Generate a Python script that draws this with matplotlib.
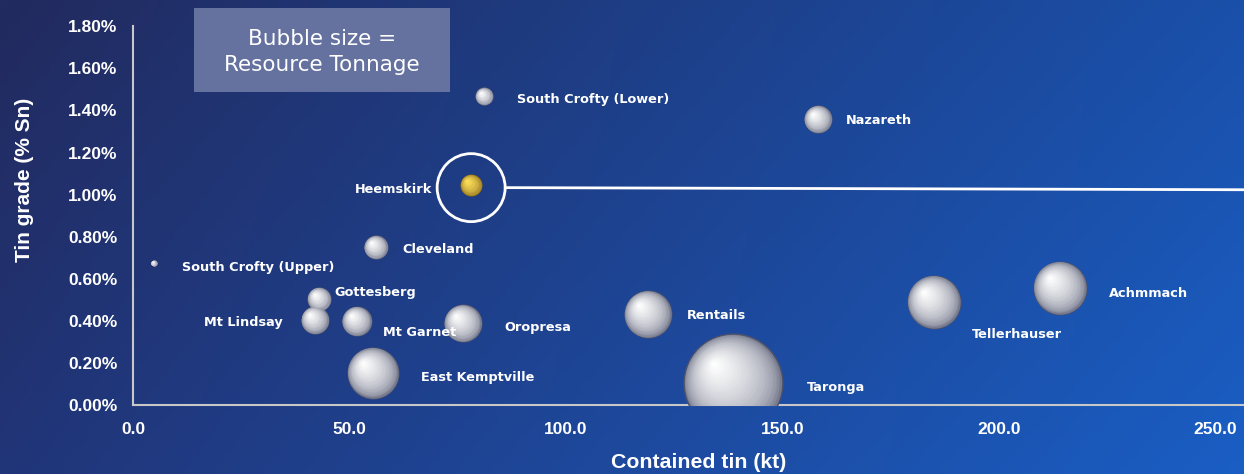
import matplotlib
matplotlib.use("Agg")
import matplotlib.pyplot as plt
import matplotlib.transforms as mtransforms
from matplotlib.patches import Rectangle
import numpy as np

# Resource data
deposits = ['South Crofty (Upper)', 'South Crofty (Lower)', 'Nazareth', 'Heemskirk',
            'Cleveland', 'Gottesberg', 'Mt Lindsay', 'Mt Garnet', 'Oropresa',
            'East Kemptville', 'Rentails', 'Taronga', 'Tellerhauser', 'Achmmach']
contained_tin = [4.8, 81.1, 158.2, 78.1, 56.1, 43.0, 42.0, 51.7, 76.2, 55.4, 118.9, 138.6, 185.0, 214.1]
grade = [0.674, 1.467, 1.358, 1.045, 0.750, 0.503, 0.404, 0.399, 0.389, 0.152, 0.432, 0.104, 0.489, 0.556]
tonnage = [0.3, 2.5, 6.0, 3.7, 4.4, 4.4, 6.0, 6.8, 11.0, 20.5, 17.5, 76.0, 22.0, 22.0]

# label offsets in points (dx, dy, ha)
label_pos = {
    'South Crofty (Upper)': (20, -3, 'left'),
    'South Crofty (Lower)': (24, -2, 'left'),
    'Nazareth': (20, -1, 'left'),
    'Heemskirk': (-28, -3, 'right'),
    'Cleveland': (19, -2, 'left'),
    'Gottesberg': (11, 5, 'left'),
    'Mt Lindsay': (-23, -2, 'right'),
    'Mt Garnet': (19, -8, 'left'),
    'Oropresa': (30, -3, 'left'),
    'East Kemptville': (35, -3, 'left'),
    'Rentails': (28, -1, 'left'),
    'Taronga': (53, -3, 'left'),
    'Tellerhauser': (27, -23, 'left'),
    'Achmmach': (35, -4, 'left'),
}

plt.rcParams['font.family'] = ['Liberation Sans', 'DejaVu Sans']

fig = plt.figure(figsize=(12.44, 4.74), dpi=100)

# background gradient
bg = fig.add_axes([0, 0, 1, 1], zorder=-10)
gx = np.linspace(0, 1, 300)
gy = np.linspace(0, 1, 120)
X, Y = np.meshgrid(gx, gy)
tl = np.array([0x22, 0x2a, 0x5e]) / 255
tr = np.array([0x1a, 0x50, 0xaa]) / 255
bl = np.array([0x21, 0x35, 0x78]) / 255
br = np.array([0x1a, 0x5e, 0xc4]) / 255
img = ((1 - X)[..., None] * (1 - Y)[..., None] * tl + X[..., None] * (1 - Y)[..., None] * tr
       + (1 - X)[..., None] * Y[..., None] * bl + X[..., None] * Y[..., None] * br)
bg.imshow(img, aspect='auto', extent=[0, 1, 1, 0])
bg.axis('off')

ax = fig.add_axes([0.1069, 0.1456, 0.8931, 0.799])
ax.set_facecolor('none')
ax.set_xlim(0, 256.6)
ax.set_ylim(0, 1.8)

pt_per_px = 72 / fig.dpi


def sphere(x, y, size, dark, light, z):
    # fake 3D ball: stacked circles shifting toward upper-left highlight
    r_pt = np.sqrt(size) / 2
    n = 36
    for i in range(n):
        f = 1 - i / n
        t = (i / (n - 1)) ** 0.4
        col = dark * (1 - t) + light * t
        shift = (1 - f) * r_pt * 0.4
        tr_ = ax.transData + mtransforms.ScaledTranslation(-shift / 72, shift / 72,
                                                           fig.dpi_scale_trans)
        ax.scatter([x], [y], s=size * f ** 2, color=col, transform=tr_,
                   linewidths=0, zorder=z + i * 0.001)


silver_dark = np.array([0.30, 0.32, 0.42])
silver_light = np.array([1.0, 1.0, 1.0])
gold_dark = np.array([0.45, 0.33, 0.08])
gold_light = np.array([1.0, 0.88, 0.35])

for name, xv, yv, t in zip(deposits, contained_tin, grade, tonnage):
    s = 68.4 * t
    if name == 'Heemskirk':
        sphere(xv, yv, s, gold_dark, gold_light, 3)
    else:
        sphere(xv, yv, s, silver_dark, silver_light, 3)
    dx, dy, ha = label_pos[name]
    ax.annotate(name, (xv, yv), xytext=(dx, dy), textcoords='offset points',
                ha=ha, va='center', color='white', fontsize=9.3, fontweight='bold',
                family='DejaVu Sans', zorder=10)

# highlight ring around Heemskirk and leader line
hx = contained_tin[deposits.index('Heemskirk')]
ring_y = 1.033
ring_d = 68 * pt_per_px
ax.scatter([hx], [ring_y], s=ring_d ** 2, facecolors='none', edgecolors='white',
           linewidths=2, zorder=6)
ax.plot([hx + 7.9, 256.6], [ring_y, ring_y - 0.01], color='white', lw=2, zorder=6,
        clip_on=False)

ax.set_xticks([0, 50, 100, 150, 200, 250])
ax.set_xticklabels(['0.0', '50.0', '100.0', '150.0', '200.0', '250.0'])
yticks = np.arange(0, 1.81, 0.2)
ax.set_yticks(yticks)
ax.set_yticklabels([f'{v:.2f}%' for v in yticks])
ax.tick_params(length=0, colors='white', labelsize=12.5)
ax.tick_params(axis='x', pad=12)
ax.tick_params(axis='y', pad=11)
for lab in ax.get_xticklabels() + ax.get_yticklabels():
    lab.set_fontweight('bold')

for side in ['top', 'right']:
    ax.spines[side].set_visible(False)
for side in ['left', 'bottom']:
    ax.spines[side].set_color('#c8c8c8')
    ax.spines[side].set_linewidth(1.5)

fig.text(699 / 1244, 1 - 462 / 474, 'Contained tin (kt)', color='white', fontsize=15.3,
         fontweight='bold', ha='center', va='center')
fig.text(25 / 1244, 1 - 180 / 474, 'Tin grade (% Sn)', color='white', fontsize=15,
         fontweight='bold', ha='center', va='center', rotation=90)

fig.patches.append(Rectangle((194 / 1244, 1 - 92 / 474), 256 / 1244, 84 / 474,
                             transform=fig.transFigure, facecolor='#6a76a2',
                             edgecolor='none', alpha=0.95, zorder=1))
fig.text(322 / 1244, 1 - 52 / 474, 'Bubble size =\nResource Tonnage', color='white',
         fontsize=15.5, family='DejaVu Sans', ha='center', va='center', linespacing=1.35,
         zorder=2)

fig.savefig('out.png', dpi=100)
